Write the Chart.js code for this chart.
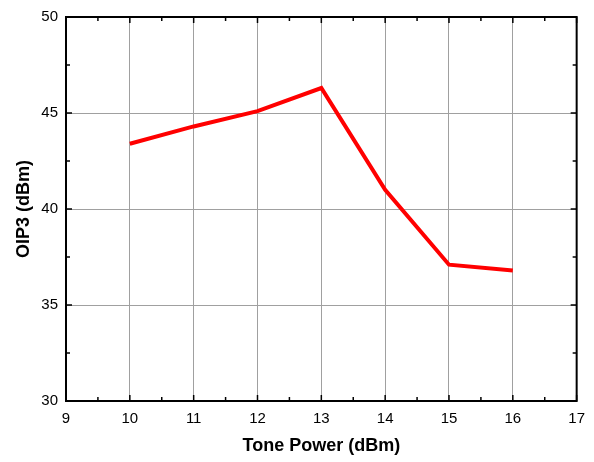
<!DOCTYPE html>
<html>
<head>
<meta charset="utf-8">
<script src="https://cdn.jsdelivr.net/npm/chart.js@4"></script>
<style>
  html, body { margin: 0; padding: 0; background: #fff; }
  #wrap { width: 594px; height: 462px; }
</style>
</head>
<body>
<div id="wrap"><canvas id="c" width="594" height="462"></canvas></div>
<script>
// Tone power sweep (dBm) and the measured output third-order intercept (dBm)
const tonePower = [10, 11, 12, 13, 14, 15, 16];
const oip3 = [43.4, 44.3, 45.1, 46.3, 41.0, 37.1, 36.8];
const xTicks = [9, 10, 11, 12, 13, 14, 15, 16, 17];
const yTicks = [30, 35, 40, 45, 50];

const FONT = "'Liberation Sans', Arial, sans-serif";

// Frame around the plot with inward major/minor tick marks on all four sides
const frameTicks = {
  id: 'frameTicks',
  afterDraw(chart) {
    const { ctx, chartArea: a, scales: { x, y } } = chart;
    ctx.save();
    ctx.strokeStyle = '#000';
    ctx.lineWidth = 1.5;
    const tick = (x1, y1, x2, y2) => { ctx.beginPath(); ctx.moveTo(x1, y1); ctx.lineTo(x2, y2); ctx.stroke(); };
    for (let v = xTicks[0]; v <= xTicks[xTicks.length - 1]; v += 0.5) {
      const px = x.getPixelForValue(v);
      const len = Number.isInteger(v) ? 6 : 4;
      tick(px, a.bottom, px, a.bottom - len);
      tick(px, a.top, px, a.top + len);
    }
    for (let v = yTicks[0]; v <= yTicks[yTicks.length - 1]; v += 2.5) {
      const py = y.getPixelForValue(v);
      const len = (v % 5 === 0) ? 6 : 4;
      tick(a.left, py, a.left + len, py);
      tick(a.right, py, a.right - len, py);
    }
    ctx.lineWidth = 2;
    ctx.strokeRect(a.left, a.top, a.right - a.left, a.bottom - a.top);
    ctx.restore();
  }
};

new Chart(document.getElementById('c'), {
  type: 'line',
  data: {
    datasets: [{
      data: tonePower.map((p, i) => ({ x: p, y: oip3[i] })),
      borderColor: '#ff0000',
      borderWidth: 4,
      pointRadius: 0,
      tension: 0,
      fill: false
    }]
  },
  options: {
    responsive: false,
    animation: false,
    layout: { padding: { top: 15, right: 17, left: 0, bottom: 0 } },
    plugins: { legend: { display: false }, tooltip: { enabled: false } },
    scales: {
      x: {
        type: 'linear',
        min: xTicks[0],
        max: xTicks[xTicks.length - 1],
        afterBuildTicks: s => { s.ticks = xTicks.map(v => ({ value: v })); },
        afterFit: s => { s.height = 61; },
        grid: { color: '#a0a0a0', lineWidth: 1, drawTicks: false },
        border: { display: false },
        ticks: { color: '#000', font: { family: FONT, size: 15 }, padding: 9, maxRotation: 0 },
        title: {
          display: true,
          text: 'Tone Power (dBm)',
          color: '#000',
          font: { family: FONT, size: 18, weight: 'bold' },
          padding: { top: 4, bottom: 5 }
        }
      },
      y: {
        type: 'linear',
        min: yTicks[0],
        max: yTicks[yTicks.length - 1],
        afterBuildTicks: s => { s.ticks = yTicks.map(v => ({ value: v })); },
        afterFit: s => { s.width = 66; },
        grid: { color: '#a0a0a0', lineWidth: 1, drawTicks: false },
        border: { display: false },
        ticks: { color: '#000', font: { family: FONT, size: 15 }, padding: 8 },
        title: {
          display: true,
          text: 'OIP3 (dBm)',
          color: '#000',
          font: { family: FONT, size: 18, weight: 'bold' },
          padding: { top: 13, bottom: 0 }
        }
      }
    }
  },
  plugins: [frameTicks]
});
</script>
</body>
</html>
